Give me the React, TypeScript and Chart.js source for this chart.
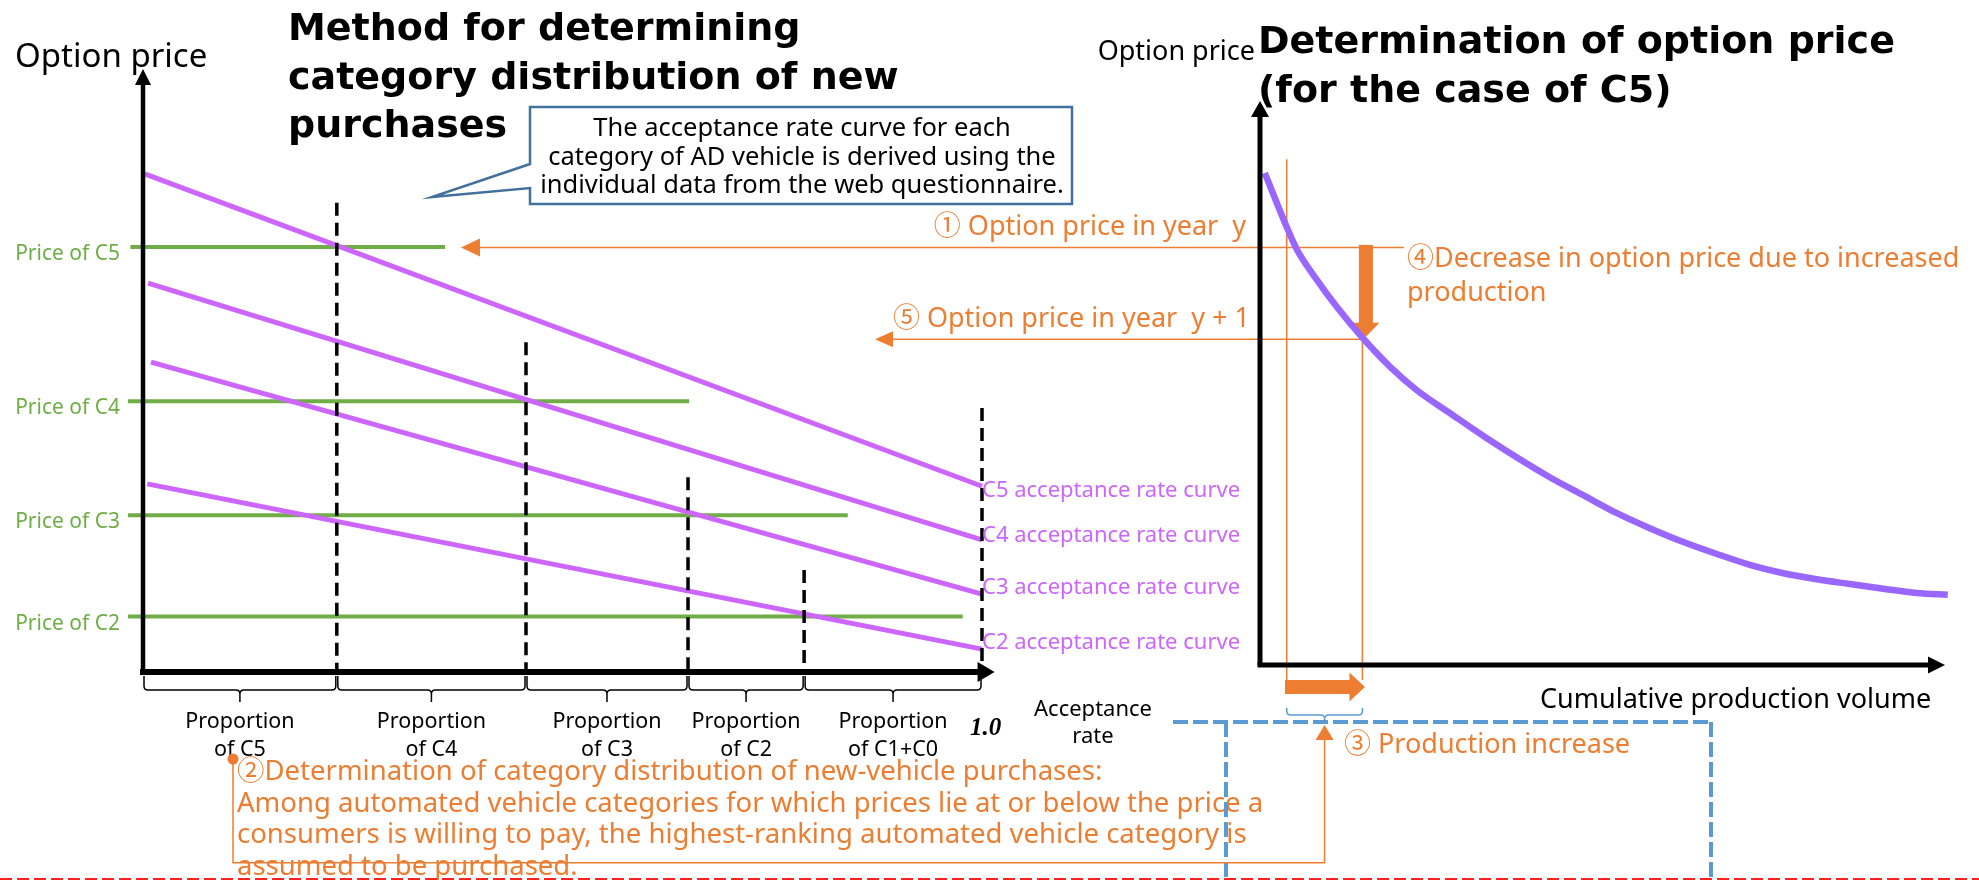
import React, { useEffect, useRef } from 'react';
import { Chart, registerables } from 'chart.js';

Chart.register(...registerables);

const W = 1979;
const H = 880;

const SANS = '"Noto Sans", "Noto Sans CJK JP", sans-serif';
const BOLD_TITLE = 'bold 38px "DejaVu Sans", "Noto Sans", sans-serif';
const PURPLE = '#CC66FF';
const CURVE = '#9966FF';
const GREEN = '#70AD47';
const ORANGE = '#ED7D31';
const BLUE = '#5B9BD5';
const CALLOUT = '#41719C';
const RED = '#FF2020';

// ---------------- Left panel data (x: share of purchases 0..1, y: option price) ----------------
const curveLabels = ['C5 acceptance rate curve', 'C4 acceptance rate curve', 'C3 acceptance rate curve', 'C2 acceptance rate curve'];
const curveStartShare = [0.002, 0.006, 0.0095, 0.005];
const curveStartPrice = [82.6, 64.5, 51.4, 31.2];
const curveEndShare = [1.0, 1.0, 1.0, 1.0];
const curveEndPrice = [30.8, 21.9, 12.9, 3.8];

const priceLabels = ['Price of C5', 'Price of C4', 'Price of C3', 'Price of C2'];
const categoryPrices = [70.5, 44.9, 26.0, 9.2];
const priceLineStart = [-0.015, -0.018, -0.018, -0.018];
const priceLineEnd = [0.36, 0.651, 0.84, 0.977];

const shareBoundaries = [0.231, 0.4565, 0.6496, 0.788, 1.0];
const boundaryTopPrice = [77.8, 54.7, 32.3, 16.9, 43.8];
const proportionLabels = [
  ['Proportion', 'of C5'],
  ['Proportion', 'of C4'],
  ['Proportion', 'of C3'],
  ['Proportion', 'of C2'],
  ['Proportion', 'of C1+C0'],
];

// ---------------- Right panel data (x: cumulative production, y: option price of C5) ----------------
const cumulativeProduction = [0.7, 3.9, 5.4, 8.3, 11.2, 15.0, 19.0, 22.9, 27.7, 33.1, 42.3, 47.2, 52.1, 56.9, 61.8, 66.7, 71.5, 76.4, 81.3, 86.1, 91.0, 95.9, 100.4];
const optionPriceC5 = [82.0, 73.0, 69.2, 64.2, 59.7, 54.5, 49.7, 45.8, 42.0, 37.8, 31.3, 28.3, 25.3, 22.8, 20.5, 18.5, 16.7, 15.3, 14.3, 13.5, 12.7, 12.0, 11.7];
const productionYearY = 3.9;
const productionYearY1 = 14.95;
const priceYearY = 69.6;
const priceYearY1 = 54.3;
const guideTopPrice = 84.3;
const priceGuideRightEnd = 21.0;

// ---------------- Texts ----------------
const leftTitle = ['Method for determining', 'category distribution of new', 'purchases'];
const rightTitle = ['Determination of option price', '(for the case of C5)'];
const calloutText = [
  'The acceptance rate curve for each',
  'category of AD vehicle is derived using the',
  'individual data from the web questionnaire.',
];
const step2Text = [
  '\u2461Determination of category distribution of new-vehicle purchases:',
  'Among automated vehicle categories for which prices lie at or below the price a',
  'consumers is willing to pay, the highest-ranking automated vehicle category is',
  'assumed to be purchased.',
];
const curveLabelBaselines = [497, 542, 594, 649];

type Ctx = CanvasRenderingContext2D;

function poly(ctx: Ctx, pts: number[][], color: string, width: number, dash: number[] = []) {
  ctx.save();
  ctx.beginPath();
  ctx.strokeStyle = color;
  ctx.lineWidth = width;
  ctx.setLineDash(dash);
  pts.forEach(([x, y], i) => (i ? ctx.lineTo(x, y) : ctx.moveTo(x, y)));
  ctx.stroke();
  ctx.restore();
}

function fillPoly(ctx: Ctx, pts: number[][], color: string) {
  ctx.save();
  ctx.beginPath();
  ctx.fillStyle = color;
  pts.forEach(([x, y], i) => (i ? ctx.lineTo(x, y) : ctx.moveTo(x, y)));
  ctx.closePath();
  ctx.fill();
  ctx.restore();
}

function text(ctx: Ctx, s: string, x: number, y: number, font: string, color: string, align: CanvasTextAlign = 'left') {
  ctx.save();
  ctx.font = font;
  ctx.fillStyle = color;
  ctx.textAlign = align;
  ctx.textBaseline = 'alphabetic';
  ctx.fillText(s, x, y);
  ctx.restore();
}

function brace(ctx: Ctx, x1: number, x2: number, yTop: number, yMid: number, yTip: number, color: string, width: number) {
  const r = 4;
  const cx = (x1 + x2) / 2;
  ctx.save();
  ctx.strokeStyle = color;
  ctx.lineWidth = width;
  ctx.beginPath();
  ctx.moveTo(x1, yTop);
  ctx.lineTo(x1, yMid - r);
  ctx.quadraticCurveTo(x1, yMid, x1 + r, yMid);
  ctx.lineTo(cx - r, yMid);
  ctx.quadraticCurveTo(cx, yMid, cx, yMid + r);
  ctx.lineTo(cx, yTip);
  ctx.moveTo(cx, yMid + r);
  ctx.quadraticCurveTo(cx, yMid, cx + r, yMid);
  ctx.lineTo(x2 - r, yMid);
  ctx.quadraticCurveTo(x2, yMid, x2, yMid - r);
  ctx.lineTo(x2, yTop);
  ctx.stroke();
  ctx.restore();
}

const leftOverlay = {
  id: 'leftOverlay',
  afterDraw(chart: any) {
    const ctx: Ctx = chart.ctx;
    const xs = chart.scales.x;
    const ys = chart.scales.y;
    const X = (v: number) => xs.getPixelForValue(v);
    const Y = (v: number) => ys.getPixelForValue(v);
    const x0 = X(0);
    const y0 = Y(0);

    // axes
    poly(ctx, [[x0, y0], [x0, Y(100) + 14]], '#000', 4.5);
    fillPoly(ctx, [[x0, Y(100)], [x0 - 8, Y(100) + 16], [x0 + 8, Y(100) + 16]], '#000');
    poly(ctx, [[x0 - 3, y0], [X(1.015) - 15, y0]], '#000', 6);
    fillPoly(ctx, [[X(1.015), y0], [X(1.015) - 17, y0 - 10], [X(1.015) - 17, y0 + 10]], '#000');

    // braces + proportion labels
    let prev = 0;
    shareBoundaries.forEach((b, i) => {
      const a = X(prev) + 1;
      const c = X(b) - 1;
      brace(ctx, a, c, y0 + 4, y0 + 18, y0 + 30, '#000', 1.5);
      const cx = (a + c) / 2;
      text(ctx, proportionLabels[i][0], cx, 728, `21.5px ${SANS}`, '#000', 'center');
      text(ctx, proportionLabels[i][1], cx, 756, `21.5px ${SANS}`, '#000', 'center');
      prev = b;
    });
    text(ctx, '1.0', X(1) - 12, 735, `italic bold 25px "Liberation Serif", serif`, '#000');

    // price labels
    categoryPrices.forEach((p, i) => {
      text(ctx, priceLabels[i], 120, Y(p) + 13, `21px ${SANS}`, GREEN, 'right');
    });
    // curve labels
    curveLabels.forEach((s, i) => {
      text(ctx, s, X(1), curveLabelBaselines[i], `22px ${SANS}`, PURPLE);
    });

    // axis label + title
    text(ctx, 'Option price', 15, 67, `33px ${SANS}`, '#000');
    leftTitle.forEach((s, i) => text(ctx, s, 288, 40 + i * 48.5, BOLD_TITLE, '#000'));

    // callout
    ctx.save();
    ctx.beginPath();
    ctx.moveTo(530, 164);
    ctx.lineTo(530, 107);
    ctx.lineTo(1072, 107);
    ctx.lineTo(1072, 204);
    ctx.lineTo(530, 204);
    ctx.lineTo(530, 188);
    ctx.lineTo(432, 197);
    ctx.closePath();
    ctx.fillStyle = '#fff';
    ctx.fill();
    ctx.strokeStyle = CALLOUT;
    ctx.lineWidth = 2.5;
    ctx.stroke();
    ctx.restore();
    calloutText.forEach((s, i) => text(ctx, s, 802, 136 + i * 28.6, `25.5px ${SANS}`, '#000', 'center'));

    // step 2 text block
    step2Text.forEach((s, i) => text(ctx, s, 237, 780 + i * 31.7, `27.5px ${SANS}`, ORANGE));
  },
};

const rightUnder = {
  id: 'rightUnder',
  beforeDatasetsDraw(chart: any) {
    const ctx: Ctx = chart.ctx;
    const X = (v: number) => chart.scales.x.getPixelForValue(v);
    const Y = (v: number) => chart.scales.y.getPixelForValue(v);
    const x1 = X(productionYearY);
    const x2 = X(productionYearY1);
    const yA = Y(priceYearY);
    const yB = Y(priceYearY1);
    const y0 = Y(0);
    // guides
    poly(ctx, [[x1, Y(guideTopPrice)], [x1, y0 + 15]], ORANGE, 1.5);
    poly(ctx, [[x2, yB], [x2, y0 + 15]], ORANGE, 1.5);
    poly(ctx, [[X(priceGuideRightEnd), yA], [478, yA]], ORANGE, 1.5);
    fillPoly(ctx, [[461, yA], [480, yA - 9], [480, yA + 9]], ORANGE);
    poly(ctx, [[x2, yB], [891, yB]], ORANGE, 1.5);
    fillPoly(ctx, [[875, yB], [893, yB - 8], [893, yB + 8]], ORANGE);
    // thick down arrow
    const ax = x2 + 3.5;
    ctx.save();
    ctx.fillStyle = ORANGE;
    ctx.fillRect(ax - 7, yA - 2.5, 14, yB - 16 - (yA - 2.5));
    ctx.restore();
    fillPoly(ctx, [[ax - 13.5, yB - 16.5], [ax + 13.5, yB - 16.5], [ax, yB - 2.5]], ORANGE);
  },
};

const rightOverlay = {
  id: 'rightOverlay',
  afterDraw(chart: any) {
    const ctx: Ctx = chart.ctx;
    const X = (v: number) => chart.scales.x.getPixelForValue(v);
    const Y = (v: number) => chart.scales.y.getPixelForValue(v);
    const x0 = X(0);
    const y0 = Y(0);
    const x1 = X(productionYearY);
    const x2 = X(productionYearY1);

    // axes
    poly(ctx, [[x0, y0], [x0, 114]], '#000', 5);
    fillPoly(ctx, [[x0, 101], [x0 - 9, 117], [x0 + 9, 117]], '#000');
    poly(ctx, [[x0 - 2.5, y0], [X(100) - 15, y0]], '#000', 5);
    fillPoly(ctx, [[X(100), y0], [X(100) - 17, y0 - 8.5], [X(100) - 17, y0 + 8.5]], '#000');

    // production increase arrow
    const ay = y0 + 22;
    ctx.save();
    ctx.fillStyle = ORANGE;
    ctx.fillRect(x1 - 1.7, ay - 7, x2 - 12 - (x1 - 1.7), 14);
    ctx.restore();
    fillPoly(ctx, [[x2 - 13, ay - 14.5], [x2 - 13, ay + 14.5], [x2 + 2.5, ay]], ORANGE);

    // blue bracket
    brace(ctx, x1, x2, 708, 715, 722, BLUE, 1.5);

    // blue dashed frame
    poly(ctx, [[1173, 722], [1711, 722]], BLUE, 4, [15, 5]);
    poly(ctx, [[1226, 722], [1226, 880]], BLUE, 4, [15, 5]);
    poly(ctx, [[1711, 722], [1711, 880]], BLUE, 4, [15, 5]);

    // connector from step 2 to production increase
    const cx = (x1 + x2) / 2;
    poly(ctx, [[233, 759], [233, 862.7], [cx, 862.7], [cx, 739]], ORANGE, 1.5);
    fillPoly(ctx, [[cx, 725], [cx - 9, 740], [cx + 9, 740]], ORANGE);
    ctx.save();
    ctx.fillStyle = ORANGE;
    ctx.beginPath();
    ctx.arc(233, 759, 5.5, 0, Math.PI * 2);
    ctx.fill();
    ctx.restore();

    // texts
    text(ctx, 'Option price', 1255, 60, `27px ${SANS}`, '#000', 'right');
    rightTitle.forEach((s, i) => text(ctx, s, 1258, 53 + i * 49, BOLD_TITLE, '#000'));
    text(ctx, 'Cumulative production volume', 1540, 708, `27px ${SANS}`, '#000');
    text(ctx, 'Acceptance', 1093, 716, `22px ${SANS}`, '#000', 'center');
    text(ctx, 'rate', 1093, 743, `22px ${SANS}`, '#000', 'center');

    text(ctx, '\u2460 Option price in year  y', 1246, 235, `27px ${SANS}`, ORANGE, 'right');
    text(ctx, '\u2464 Option price in year  y + 1', 1250, 327, `27px ${SANS}`, ORANGE, 'right');
    text(ctx, '\u2463Decrease in option price due to increased', 1407, 267, `27px ${SANS}`, ORANGE);
    text(ctx, 'production', 1407, 301, `27px ${SANS}`, ORANGE);
    text(ctx, '\u2462 Production increase', 1344, 753, `27px ${SANS}`, ORANGE);

    // red dashed separator
    poly(ctx, [[0, 879], [W, 879]], RED, 2, [12, 5]);
  },
};

function lineDs(data: { x: number; y: number }[], color: string, width: number, extra: any = {}) {
  return {
    data,
    showLine: true,
    borderColor: color,
    backgroundColor: color,
    borderWidth: width,
    pointRadius: 0,
    fill: false,
    clip: false,
    ...extra,
  };
}

function baseOptions(padding: any, xMin: number, xMax: number) {
  return {
    responsive: false,
    maintainAspectRatio: false,
    animation: false,
    devicePixelRatio: 1,
    events: [],
    layout: { padding },
    plugins: { legend: { display: false }, tooltip: { enabled: false }, title: { display: false } },
    scales: {
      x: { type: 'linear', min: xMin, max: xMax, display: false },
      y: { type: 'linear', min: 0, max: 100, display: false },
    },
  };
}

export default function App() {
  const leftRef = useRef<HTMLCanvasElement>(null);
  const rightRef = useRef<HTMLCanvasElement>(null);

  useEffect(() => {
    const boundaryDs = shareBoundaries.map((b, i) =>
      lineDs([{ x: b, y: boundaryTopPrice[i] }, { x: b, y: 0 }], '#000', 3.5, { borderDash: [13, 7] })
    );
    const curveDs = curveLabels.map((_, i) =>
      lineDs([{ x: curveStartShare[i], y: curveStartPrice[i] }, { x: curveEndShare[i], y: curveEndPrice[i] }], PURPLE, 5)
    );
    const priceDs = categoryPrices.map((p, i) =>
      lineDs([{ x: priceLineStart[i], y: p }, { x: priceLineEnd[i], y: p }], GREEN, 4)
    );
    const left = new Chart(leftRef.current as HTMLCanvasElement, {
      type: 'scatter',
      data: { datasets: [...boundaryDs, ...curveDs, ...priceDs] as any },
      options: baseOptions({ left: 143, right: W - 982, top: 69, bottom: H - 672 }, 0, 1) as any,
      plugins: [leftOverlay as any],
    });

    const right = new Chart(rightRef.current as HTMLCanvasElement, {
      type: 'scatter',
      data: {
        datasets: [
          lineDs(
            cumulativeProduction.map((x, i) => ({ x, y: optionPriceC5[i] })),
            CURVE,
            6.5,
            { cubicInterpolationMode: 'monotone', borderCapStyle: 'butt' }
          ),
        ] as any,
      },
      options: baseOptions({ left: 1260, right: W - 1945, top: 65, bottom: H - 665 }, 0, 100) as any,
      plugins: [rightUnder as any, rightOverlay as any],
    });

    return () => {
      left.destroy();
      right.destroy();
    };
  }, []);

  return (
    <div style={{ position: 'absolute', left: 0, top: 0, width: W, height: H, background: '#fff', overflow: 'hidden' }}>
      <canvas ref={leftRef} width={W} height={H} style={{ position: 'absolute', left: 0, top: 0 }} />
      <canvas ref={rightRef} width={W} height={H} style={{ position: 'absolute', left: 0, top: 0 }} />
    </div>
  );
}
